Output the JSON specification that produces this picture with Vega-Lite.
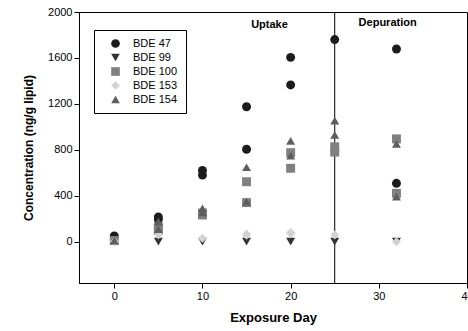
{
  "$schema": "https://vega.github.io/schema/vega-lite/v6.json",
  "width": 388,
  "height": 271,
  "autosize": {"type": "none"},
  "padding": {"left": 79, "top": 12, "right": 1, "bottom": 48},
  "background": "white",
  "config": {
    "font": "Liberation Sans",
    "view": {"stroke": "black", "strokeWidth": 1},
    "axis": {"grid": false, "domainColor": "black", "tickColor": "black", "labelColor": "black", "titleColor": "black", "labelFont": "Liberation Sans", "titleFont": "Liberation Sans", "labelFontSize": 11, "titleFontSize": 12, "titleFontWeight": "bold", "tickSize": 5, "format": "d", "labelFlush": false}
  },
  "datasets": {
    "pts": [
      {"day": 0, "conc": 50, "congener": "BDE 47"},
      {"day": 5, "conc": 215, "congener": "BDE 47"},
      {"day": 5, "conc": 195, "congener": "BDE 47"},
      {"day": 10, "conc": 620, "congener": "BDE 47"},
      {"day": 10, "conc": 580, "congener": "BDE 47"},
      {"day": 15, "conc": 1175, "congener": "BDE 47"},
      {"day": 15, "conc": 805, "congener": "BDE 47"},
      {"day": 20, "conc": 1605, "congener": "BDE 47"},
      {"day": 20, "conc": 1365, "congener": "BDE 47"},
      {"day": 25, "conc": 1760, "congener": "BDE 47"},
      {"day": 32, "conc": 1678, "congener": "BDE 47"},
      {"day": 32, "conc": 508, "congener": "BDE 47"},
      {"day": 0, "conc": 0, "congener": "BDE 99"},
      {"day": 5, "conc": 0, "congener": "BDE 99"},
      {"day": 10, "conc": 0, "congener": "BDE 99"},
      {"day": 15, "conc": 0, "congener": "BDE 99"},
      {"day": 20, "conc": 0, "congener": "BDE 99"},
      {"day": 25, "conc": 0, "congener": "BDE 99"},
      {"day": 32, "conc": 0, "congener": "BDE 99"},
      {"day": 0, "conc": 10, "congener": "BDE 100"},
      {"day": 5, "conc": 130, "congener": "BDE 100"},
      {"day": 5, "conc": 100, "congener": "BDE 100"},
      {"day": 10, "conc": 250, "congener": "BDE 100"},
      {"day": 10, "conc": 232, "congener": "BDE 100"},
      {"day": 15, "conc": 522, "congener": "BDE 100"},
      {"day": 15, "conc": 340, "congener": "BDE 100"},
      {"day": 20, "conc": 775, "congener": "BDE 100"},
      {"day": 20, "conc": 639, "congener": "BDE 100"},
      {"day": 25, "conc": 827, "congener": "BDE 100"},
      {"day": 25, "conc": 780, "congener": "BDE 100"},
      {"day": 32, "conc": 895, "congener": "BDE 100"},
      {"day": 32, "conc": 421, "congener": "BDE 100"},
      {"day": 0, "conc": 0, "congener": "BDE 153"},
      {"day": 5, "conc": 60, "congener": "BDE 153"},
      {"day": 10, "conc": 30, "congener": "BDE 153"},
      {"day": 15, "conc": 67, "congener": "BDE 153"},
      {"day": 15, "conc": 55, "congener": "BDE 153"},
      {"day": 20, "conc": 80, "congener": "BDE 153"},
      {"day": 20, "conc": 68, "congener": "BDE 153"},
      {"day": 25, "conc": 58, "congener": "BDE 153"},
      {"day": 32, "conc": 0, "congener": "BDE 153"},
      {"day": 0, "conc": 10, "congener": "BDE 154"},
      {"day": 5, "conc": 174, "congener": "BDE 154"},
      {"day": 5, "conc": 110, "congener": "BDE 154"},
      {"day": 10, "conc": 290, "congener": "BDE 154"},
      {"day": 10, "conc": 255, "congener": "BDE 154"},
      {"day": 15, "conc": 648, "congener": "BDE 154"},
      {"day": 15, "conc": 348, "congener": "BDE 154"},
      {"day": 20, "conc": 877, "congener": "BDE 154"},
      {"day": 20, "conc": 750, "congener": "BDE 154"},
      {"day": 25, "conc": 1054, "congener": "BDE 154"},
      {"day": 25, "conc": 929, "congener": "BDE 154"},
      {"day": 32, "conc": 851, "congener": "BDE 154"},
      {"day": 32, "conc": 392, "congener": "BDE 154"}
    ],
    "labels": [
      {"day": 17.6, "conc": 1890, "label": "Uptake"},
      {"day": 31, "conc": 1905, "label": "Depuration"}
    ],
    "rule": [{"day": 25}]
  },
  "layer": [
    {
      "data": {"name": "rule"},
      "mark": {"type": "rule", "color": "black", "strokeWidth": 1},
      "encoding": {
        "x": {"field": "day", "type": "quantitative", "scale": {"domain": [-4, 40]}}
      }
    },
    {
      "data": {"name": "pts"},
      "mark": {"type": "point", "filled": true, "opacity": 1, "size": 80},
      "encoding": {
        "x": {"field": "day", "type": "quantitative", "title": "Exposure Day", "scale": {"domain": [-4, 40], "nice": false, "zero": false}, "axis": {"values": [0, 10, 20, 30, 40], "titlePadding": 10, "titleFontSize": 13, "labelFlush": false}},
        "y": {"field": "conc", "type": "quantitative", "title": "Concentration (ng/g lipid)", "scale": {"domain": [-360, 2000], "nice": false, "zero": false}, "axis": {"values": [0, 400, 800, 1200, 1600, 2000], "titlePadding": 12, "labelFlush": false}},
        "shape": {"field": "congener", "type": "nominal", "sort": ["BDE 47", "BDE 99", "BDE 100", "BDE 153", "BDE 154"],
          "scale": {"domain": ["BDE 47", "BDE 99", "BDE 100", "BDE 153", "BDE 154"], "range": ["circle", "triangle-down", "square", "diamond", "triangle-up"]},
          "legend": {"title": null, "orient": "none", "legendX": 15, "legendY": 18, "padding": 8, "strokeColor": "black", "fillColor": "white", "labelFontSize": 11, "labelFont": "Liberation Sans", "labelColor": "black", "rowPadding": 2, "symbolOffset": 8, "labelOffset": 12, "symbolSize": 75, "cornerRadius": 0}},
        "color": {"field": "congener", "type": "nominal", "sort": ["BDE 47", "BDE 99", "BDE 100", "BDE 153", "BDE 154"],
          "scale": {"domain": ["BDE 47", "BDE 99", "BDE 100", "BDE 153", "BDE 154"], "range": ["#1c1c1c", "#333333", "#808080", "#d3d3d3", "#5e5e5e"]},
          "legend": {"title": null, "orient": "none", "legendX": 15, "legendY": 18, "padding": 8, "strokeColor": "black", "fillColor": "white", "labelFontSize": 11, "labelFont": "Liberation Sans", "labelColor": "black", "rowPadding": 2, "symbolOffset": 8, "labelOffset": 12, "symbolSize": 75, "cornerRadius": 0}}
      }
    },
    {
      "data": {"name": "labels"},
      "mark": {"type": "text", "font": "Liberation Sans", "fontWeight": "bold", "fontSize": 11, "color": "black"},
      "encoding": {
        "x": {"field": "day", "type": "quantitative"},
        "y": {"field": "conc", "type": "quantitative"},
        "text": {"field": "label"}
      }
    }
  ]
}
